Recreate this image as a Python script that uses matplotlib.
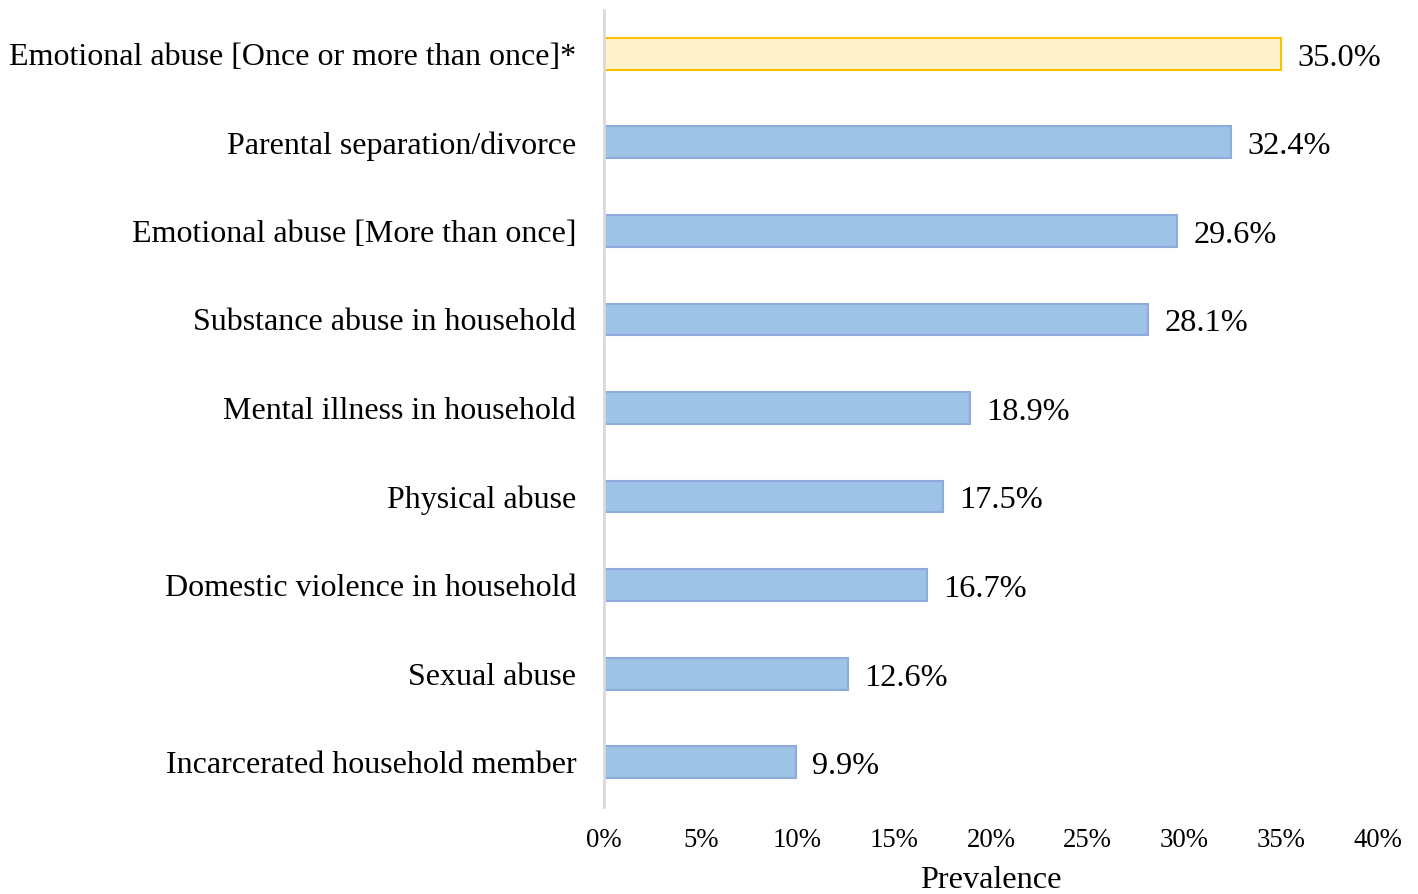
import matplotlib
matplotlib.use("Agg")
import matplotlib.pyplot as plt
from matplotlib.ticker import FuncFormatter

categories = [
    "Emotional abuse [Once or more than once]*",
    "Parental separation/divorce",
    "Emotional abuse [More than once]",
    "Substance abuse in household",
    "Mental illness in household",
    "Physical abuse",
    "Domestic violence in household",
    "Sexual abuse",
    "Incarcerated household member",
]
values = [35.0, 32.4, 29.6, 28.1, 18.9, 17.5, 16.7, 12.6, 9.9]
xticks = [0, 5, 10, 15, 20, 25, 30, 35, 40]

plt.rcParams['font.family'] = ['Liberation Serif', 'DejaVu Serif']

fig = plt.figure(figsize=(14.18, 8.94), dpi=100)
ax = fig.add_axes([604/1418, 1-806.5/894, (1378-604)/1418, (806.5-9.5)/894])

ys = list(range(len(categories)))
for i, (c, v) in enumerate(zip(categories, values)):
    if i == 0:
        fc, ec = "#FFF2CC", "#FFC000"
    else:
        fc, ec = "#9DC3E6", "#8FAADC"
    ax.barh(i, v, height=0.36, color=fc, edgecolor=ec, linewidth=1.5, zorder=2)
    ax.text(v + 0.85, i + 0.05, f"{v:.1f}%", va="center", ha="left", fontsize=23.3)

ax.set_ylim(8.5, -0.5)
ax.set_xlim(0, 40)
ax.set_yticks(ys)
ax.set_yticklabels(categories, fontsize=23)
ax.set_xticks(xticks)
ax.xaxis.set_major_formatter(FuncFormatter(lambda x, p: f"{int(x)}%"))
ax.tick_params(axis='x', length=0, labelsize=19.3, pad=15.5)
ax.tick_params(axis='y', length=0, pad=20)
for s in ["top", "right", "bottom"]:
    ax.spines[s].set_visible(False)
ax.spines["left"].set_color("#D9D9D9")
ax.spines["left"].set_linewidth(2)
ax.set_xlabel("Prevalence", fontsize=23.2, labelpad=9)

fig.savefig("out.png", dpi=100)
